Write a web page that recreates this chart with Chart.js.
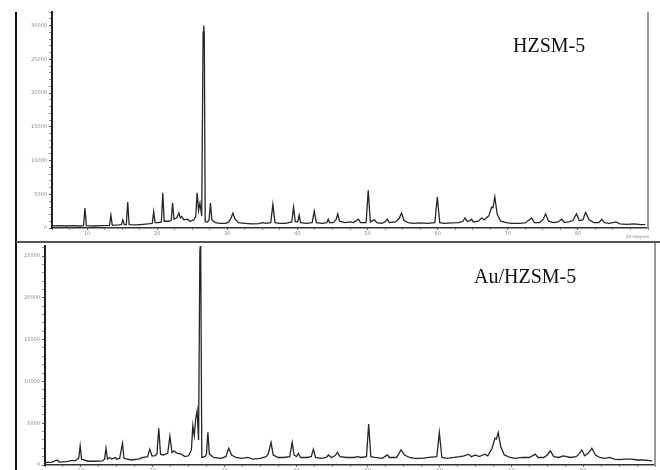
<!DOCTYPE html>
<html>
<head>
<meta charset="utf-8">
<script src="https://cdn.jsdelivr.net/npm/chart.js@4.4.1/dist/chart.umd.min.js"></script>
<style>
  html, body { margin: 0; padding: 0; background: #fff; }
  #page { position: relative; width: 660px; height: 470px; overflow: hidden; background: #fff; }
  canvas { position: absolute; left: 0; }
  .frame { position: absolute; }
  .tag { position: absolute; font-family: "Liberation Serif", "Times New Roman", serif; font-size: 20px; color: #111; white-space: nowrap; line-height: 1; }
  .unit { position: absolute; font-family: "DejaVu Sans", sans-serif; font-size: 4px; color: #888; white-space: nowrap; }
</style>
</head>
<body>
<div id="page">
  <canvas id="top" width="660" height="241" style="top:0;width:660px;height:241px"></canvas>
  <canvas id="bottom" width="660" height="229" style="top:241px;width:660px;height:229px"></canvas>
  <div class="frame" style="left:15px;top:12px;width:2px;height:458px;background:#111"></div>
  <div class="frame" style="left:16px;top:241px;width:644px;height:2px;background:#555"></div>
  <div class="tag" style="left:513px;top:35px">HZSM-5</div>
  <div class="tag" style="left:474px;top:266px">Au/HZSM-5</div>
  <div class="unit" style="left:626px;top:234px">2θ (degree)</div>
</div>
<script>
// Diffraction angle range (2θ, degrees)
const angleMin = 5;
const angleMax = 90;
const angleLabels = [10, 20, 30, 40, 50, 60, 70, 80];

// HZSM-5 pattern: 2θ positions and counts
const hzsmAngles = [
  5.0, 6.0, 7.0, 8.0, 9.0, 9.5, 9.7, 9.9, 11.0, 12.0,
  13.2, 13.4, 13.6, 14.5, 14.9, 15.1, 15.3, 15.6, 15.8, 16.0,
  17.0, 18.0, 19.0, 19.3, 19.5, 19.7, 20.2, 20.6, 20.8, 21.0,
  21.6, 22.0, 22.2, 22.4, 22.8, 23.1, 23.3, 23.5, 23.8, 24.3,
  24.7, 25.2, 25.5, 25.7, 25.9, 26.1, 26.35, 26.55, 26.64, 26.72, 26.85, 27.2,
  27.4, 27.6, 27.8, 28.3, 29.0, 29.8, 30.2, 30.5, 30.8, 31.1,
  31.6, 32.5, 33.5, 34.5, 35.0, 35.5, 36.2, 36.5, 36.8, 37.5,
  38.3, 39.2, 39.45, 39.7, 40.05, 40.25, 40.45, 41.3, 42.1, 42.4,
  42.7, 43.5, 44.2, 44.4, 44.6, 45.1, 45.5, 45.75, 46.0, 46.8,
  47.5, 48.0, 48.7, 49.0, 49.8, 50.1, 50.4, 51.0, 51.3, 52.0,
  52.5, 52.8, 53.1, 54.0, 54.5, 54.85, 55.2, 55.8, 56.5, 57.5,
  58.5, 59.6, 59.95, 60.3, 61.0, 62.0, 63.0, 63.6, 63.9, 64.2,
  64.6, 64.85, 65.1, 65.8, 66.3, 66.6, 67.3, 67.7, 67.9, 68.15,
  68.5, 69.0, 69.8, 70.5, 71.5, 72.5, 73.4, 73.8, 74.5, 75.0,
  75.4, 75.8, 76.5, 77.2, 77.7, 78.1, 78.7, 79.3, 79.8, 80.2,
  80.7, 81.1, 81.6, 82.3, 83.0, 83.4, 83.8, 84.5, 85.4, 86.0,
  87.0, 88.0, 89.0, 89.6
];
const hzsmCounts = [
  300, 350, 300, 350, 300, 350, 2950, 350, 300, 350,
  400, 1900, 400, 450, 500, 1200, 500, 500, 3850, 500,
  450, 550, 650, 700, 2400, 800, 800, 900, 5200, 1000,
  1000, 1100, 3700, 1300, 1500, 2200, 1500, 1700, 1200, 1300,
  1000, 1200, 1700, 5200, 2600, 3700, 1800, 29000, 30000, 28500, 900, 900,
  1200, 3700, 1200, 800, 700, 700, 900, 1400, 2200, 1300,
  800, 700, 600, 650, 800, 700, 800, 3500, 800, 700,
  700, 900, 3100, 900, 900, 1900, 800, 700, 800, 2500,
  800, 700, 800, 1300, 800, 800, 1200, 2100, 1000, 800,
  900, 800, 1300, 800, 800, 5600, 900, 1200, 800, 700,
  900, 1300, 800, 900, 1400, 2200, 1100, 800, 700, 750,
  700, 800, 4600, 800, 700, 750, 800, 1000, 1500, 1000,
  1100, 1300, 900, 1000, 1500, 1200, 1800, 3100, 3000, 4600,
  2000, 1000, 800, 700, 700, 750, 1500, 800, 800, 1200,
  2100, 1000, 800, 900, 1300, 800, 900, 1100, 2100, 1100,
  1200, 2300, 1200, 800, 800, 1300, 800, 700, 900, 600,
  550, 600, 500, 500
];

// Au/HZSM-5 pattern: 2θ positions and counts
const auAngles = [
  5.0, 6.0, 6.7, 7.0, 8.0, 8.8, 9.2, 9.7, 9.9, 10.1,
  11.0, 12.0, 13.0, 13.3, 13.5, 13.7, 14.0, 14.3, 14.8, 15.0,
  15.4, 15.8, 16.0, 17.0, 18.0, 18.7, 19.3, 19.6, 19.9, 20.3,
  20.6, 20.85, 21.1, 21.5, 21.8, 22.1, 22.4, 22.7, 23.0, 23.2,
  23.5, 24.0, 24.5, 25.0, 25.4, 25.6, 25.8, 26.0, 26.2, 26.4,
  26.58, 26.64, 26.7, 26.85, 27.3, 27.5, 27.7, 27.9, 28.5, 29.5, 30.2, 30.6,
  31.0, 31.6, 32.5, 33.2, 34.0, 35.0, 35.8, 36.1, 36.5, 36.8,
  37.5, 38.3, 39.1, 39.45, 39.7, 40.05, 40.3, 40.6, 41.5, 42.1,
  42.4, 42.7, 43.5, 44.2, 44.5, 44.9, 45.4, 45.75, 46.1, 47.0,
  48.0, 48.6, 49.0, 49.8, 50.1, 50.4, 51.0, 52.0, 52.7, 53.0,
  54.0, 54.6, 55.1, 55.8, 56.5, 57.5, 58.5, 59.6, 59.95, 60.3,
  61.0, 62.0, 62.8, 63.4, 64.0, 64.4, 65.0, 65.5, 66.3, 66.7,
  67.3, 67.7, 67.9, 68.15, 68.5, 69.0, 69.8, 70.5, 71.5, 72.5,
  73.3, 73.7, 74.5, 75.0, 75.4, 75.9, 76.6, 77.2, 77.7, 78.2,
  79.0, 79.4, 79.8, 80.2, 80.7, 81.2, 81.7, 82.3, 83.0, 83.7,
  84.3, 85.0, 85.8, 86.8, 87.5, 88.3, 89.0, 89.6
];
const auCounts = [
  300, 350, 600, 350, 400, 550, 500, 800, 2300, 700,
  450, 450, 500, 700, 2000, 700, 900, 700, 900, 700,
  800, 2600, 800, 600, 700, 900, 1000, 1900, 1100, 1100,
  1300, 4400, 1300, 1200, 1300, 1400, 3450, 1500, 1700, 1500,
  1400, 1300, 1000, 1100, 1800, 4700, 3500, 5500, 6500, 3000,
  25500, 26200, 25500, 900, 1000, 1300, 3900, 1300, 900, 800, 1000, 2000,
  1200, 900, 800, 900, 700, 800, 1000, 1300, 2700, 1200,
  900, 900, 1000, 2700, 1200, 1000, 1400, 900, 900, 1000,
  1900, 900, 800, 900, 1200, 900, 1100, 1500, 1000, 900,
  900, 1000, 900, 1000, 4900, 1000, 900, 800, 1200, 900,
  900, 1800, 1200, 900, 800, 800, 900, 1000, 3900, 900,
  800, 900, 1000, 1100, 1300, 1000, 1200, 1000, 1300, 1100,
  2000, 3200, 3100, 3900, 2200, 1200, 900, 800, 900, 900,
  1300, 900, 900, 1200, 1700, 1000, 900, 1100, 1000, 900,
  1000, 1300, 1800, 1100, 1400, 2000, 1200, 900, 800, 900,
  700, 650, 700, 700, 600, 600, 550, 500
];

// Intensity axis: labelled every 5000 counts, minor ticks every 1000
const countLabelStep = 5000;
const countMinorStep = 1000;
const hzsmCountMax = 32000;
const auCountMax = 26200;

function toPoints(xs, ys) {
  return xs.map((x, i) => ({ x: x, y: ys[i] }));
}

function isLabelled(v) {
  return Math.abs(Math.round(v) % countLabelStep) === 0;
}

// Draws the right-hand edge of the plot area
const rightEdge = {
  id: 'rightEdge',
  afterDraw(chart, args, opts) {
    const a = chart.chartArea;
    const ctx = chart.ctx;
    ctx.save();
    ctx.strokeStyle = opts.color || '#999';
    ctx.lineWidth = 2;
    ctx.beginPath();
    ctx.moveTo(a.right, opts.from !== undefined ? opts.from : a.top);
    ctx.lineTo(a.right, a.bottom);
    ctx.stroke();
    ctx.restore();
  }
};

function makeChart(id, angles, counts, cfg) {
  const tickFont = { family: 'DejaVu Sans', size: 5 };
  return new Chart(document.getElementById(id), {
    type: 'line',
    data: {
      datasets: [{
        data: toPoints(angles, counts),
        borderColor: '#262626',
        borderWidth: 1.3,
        pointRadius: 0,
        tension: 0,
        fill: false
      }]
    },
    options: {
      responsive: false,
      animation: false,
      devicePixelRatio: 1,
      layout: { padding: cfg.padding },
      plugins: {
        legend: { display: false },
        tooltip: { enabled: false },
        rightEdge: { color: '#9a9a9a', from: cfg.edgeFrom }
      },
      scales: {
        x: {
          type: 'linear',
          min: angleMin,
          max: angleMax,
          afterFit: s => { s.height = cfg.xHeight; },
          border: { display: true, color: '#333', width: 1.5 },
          grid: {
            drawOnChartArea: false,
            drawTicks: true,
            tickLength: 2,
            tickColor: '#555',
            tickWidth: c => (c.tick && angleLabels.includes(c.tick.value)) ? 1.2 : 0.7
          },
          ticks: {
            stepSize: 2.5,
            autoSkip: false,
            maxRotation: 0,
            padding: 1,
            color: '#8a8a8a',
            font: tickFont,
            callback: v => angleLabels.includes(v) ? String(v) : ''
          }
        },
        y: {
          min: 0,
          max: cfg.yMax,
          afterFit: s => { s.width = cfg.yWidth; },
          afterBuildTicks: s => {
            const t = [];
            for (let v = 0; v <= cfg.yMax; v += countMinorStep) t.push({ value: v });
            s.ticks = t;
          },
          border: { display: true, color: '#222', width: 2 },
          grid: {
            drawOnChartArea: false,
            drawTicks: true,
            tickLength: 3,
            tickColor: '#555',
            tickWidth: c => (c.tick && isLabelled(c.tick.value)) ? 1.2 : 0.7
          },
          ticks: {
            autoSkip: false,
            padding: 2,
            color: '#8a8a8a',
            font: tickFont,
            callback: v => isLabelled(v) ? String(v) : ''
          }
        }
      }
    },
    plugins: [rightEdge]
  });
}

makeChart('top', hzsmAngles, hzsmCounts, {
  padding: { left: 16, right: 12, top: 12, bottom: 0 },
  yWidth: 36, xHeight: 13, yMax: hzsmCountMax
});
makeChart('bottom', auAngles, auCounts, {
  padding: { left: 16, right: 5, top: 4, bottom: 0 },
  yWidth: 29, xHeight: 5, yMax: auCountMax, edgeFrom: 0
});
</script>
</body>
</html>
